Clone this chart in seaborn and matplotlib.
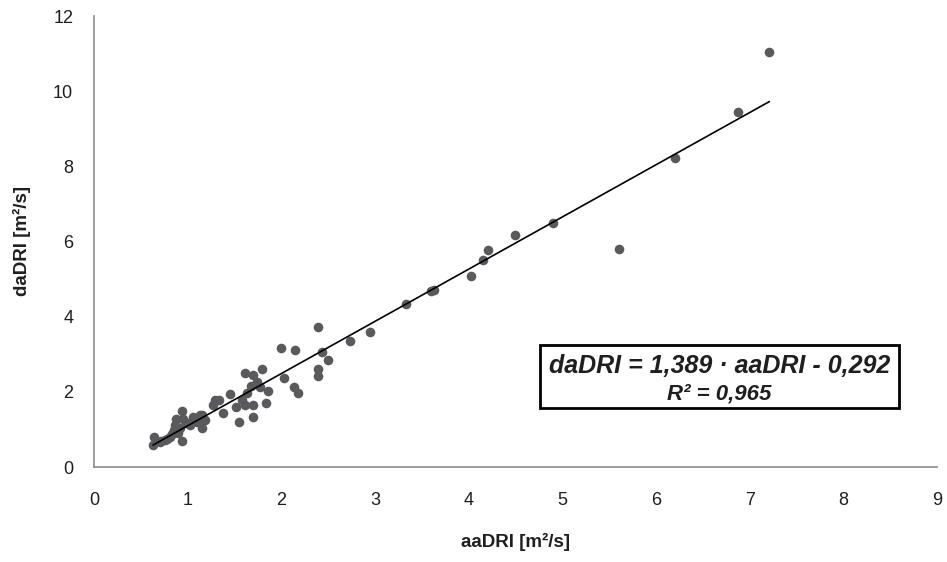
import matplotlib
matplotlib.use("Agg")
import matplotlib.pyplot as plt
from matplotlib.patches import Rectangle
import numpy as np
import pandas as pd
import seaborn as sns

# aaDRI (x) and daDRI (y) values, in m²/s
AA_DRI = [
    0.63, 0.64, 0.70, 0.72, 0.76, 0.78, 0.81, 0.83, 0.85, 0.86, 0.88, 0.90,
    0.92, 0.94, 0.94, 0.95, 0.99, 1.02, 1.06, 1.08, 1.10, 1.13, 1.15, 1.15,
    1.19, 1.27, 1.29, 1.33, 1.38, 1.45, 1.52, 1.55, 1.58, 1.61, 1.63, 1.70,
    1.70, 1.61, 1.70, 1.68, 1.74, 1.79, 1.77, 1.86, 1.84, 2.00, 2.03, 2.13,
    2.15, 2.18, 2.39, 2.43, 2.39, 2.39, 2.50, 2.73, 2.95, 3.33, 3.60, 3.63,
    4.03, 4.15, 4.21, 4.49, 4.90, 5.61, 6.20, 6.88, 7.21,
]
DA_DRI = [
    0.59, 0.79, 0.67, 0.70, 0.72, 0.75, 0.81, 0.88, 0.98, 1.12, 1.29, 0.90,
    1.05, 1.50, 0.70, 1.29, 1.16, 1.12, 1.34, 1.23, 1.20, 1.38, 1.03, 1.38,
    1.25, 1.65, 1.78, 1.78, 1.43, 1.94, 1.60, 1.20, 1.78, 1.65, 1.96, 1.65,
    1.32, 2.49, 2.45, 2.15, 2.27, 2.62, 2.12, 2.03, 1.69, 3.16, 2.38, 2.14,
    3.11, 1.96, 3.73, 3.07, 2.62, 2.42, 2.85, 3.36, 3.60, 4.35, 4.69, 4.71,
    5.08, 5.51, 5.77, 6.17, 6.48, 5.80, 8.21, 9.45, 11.05,
]
SLOPE = 1.389
INTERCEPT = -0.292
R2 = 0.965

X_TICKS = list(range(0, 10))
Y_TICKS = list(range(0, 13, 2))

sns.set_theme(style="white")
plt.rcParams["font.family"] = ["Liberation Sans", "DejaVu Sans"]

AXIS_GREY = "#8c8c8c"
POINT_GREY = "#5a5a5c"
TEXT = "#1f1f1f"

df = pd.DataFrame({"aaDRI": AA_DRI, "daDRI": DA_DRI})

fig = plt.figure(figsize=(9.47, 5.62), dpi=100)
ax = fig.add_axes([94 / 947, 1 - 467 / 562, (937 - 94) / 947, (467 - 16) / 562])

sns.scatterplot(data=df, x="aaDRI", y="daDRI", ax=ax, color=POINT_GREY,
                s=48, linewidth=0, zorder=3)

x_fit = np.array([df["aaDRI"].min(), df["aaDRI"].max()])
ax.plot(x_fit, SLOPE * x_fit + INTERCEPT, color="black", linewidth=1.2, zorder=4)

ax.set_xlim(0, 9)
ax.set_ylim(0, 12)
ax.set_xticks(X_TICKS)
ax.set_yticks(Y_TICKS)

for side in ("top", "right"):
    ax.spines[side].set_visible(False)
for side in ("left", "bottom"):
    ax.spines[side].set_color(AXIS_GREY)
    ax.spines[side].set_linewidth(1.2)

ax.tick_params(axis="both", direction="out", length=4, width=1.2,
               color=AXIS_GREY, labelsize=13, labelcolor=TEXT)
ax.tick_params(axis="x", pad=14)
ax.tick_params(axis="y", pad=11)

ax.set_xlabel("aaDRI [m²/s]", fontsize=13.5, fontweight="bold", color=TEXT)
ax.set_ylabel("daDRI [m²/s]", fontsize=13.5, fontweight="bold", color=TEXT)
ax.xaxis.set_label_coords(0.5, -0.166)
ax.xaxis.label.set_va("center")
ax.yaxis.set_label_coords(-0.085, 0.5)
ax.yaxis.label.set_va("center")

box = Rectangle((0.529, 0.131), 0.426, 0.140, transform=ax.transAxes,
                fill=False, edgecolor="black", linewidth=2, zorder=5)
ax.add_patch(box)
eq_text = f"daDRI = {SLOPE:.3f} · aaDRI - {abs(INTERCEPT):.3f}".replace(".", ",")
r2_text = f"R² = {R2:.3f}".replace(".", ",")
ax.text(0.742, 0.208, eq_text, transform=ax.transAxes, ha="center", va="baseline",
        fontsize=18, fontweight="bold", fontstyle="italic", color=TEXT)
ax.text(0.742, 0.149, r2_text, transform=ax.transAxes, ha="center", va="baseline",
        fontsize=16, fontweight="bold", fontstyle="italic", color=TEXT)

fig.savefig("out.png", dpi=100)
